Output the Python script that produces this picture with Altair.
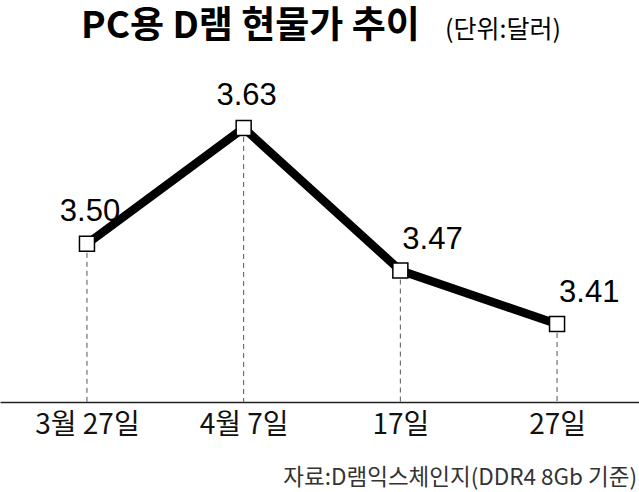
import json
import altair as alt
import pandas as pd

DATES = ["3월 27일", "4월 7일", "17일", "27일"]
PRICES = [3.50, 3.63, 3.47, 3.41]
PRICE_LABELS = ["3.50", "3.63", "3.47", "3.41"]
TITLE = "PC용 D램 현물가 추이"
UNIT = "(단위:달러)"
SOURCE = "자료:D램익스체인지(DDR4 8Gb 기준)"

df = pd.DataFrame({"i": list(range(len(DATES))), "date": DATES,
                   "price": PRICES, "label": PRICE_LABELS})

Y_DOMAIN = [3.3225, 3.7736]
X_DOMAIN = [-0.555, 3.523]
KR = "Noto Sans CJK KR"

label_expr = json.dumps(DATES, ensure_ascii=False) + "[datum.value]"

x = alt.X("i:Q",
          scale=alt.Scale(domain=X_DOMAIN, nice=False, zero=False),
          axis=alt.Axis(values=[0, 1, 2, 3], labelExpr=label_expr, ticks=False,
                        grid=False, title=None, domainColor="#222", domainWidth=1.5,
                        labelFont=KR, labelFontSize=28, labelColor="#111",
                        labelPadding=9, labelFlush=False, labelOverlap=False))
y = alt.Y("price:Q", scale=alt.Scale(domain=Y_DOMAIN, nice=False, zero=False), axis=None)

base = alt.Chart(df).encode(x=x, y=y)

rules = base.mark_rule(strokeDash=[5, 4], color="#555", strokeWidth=1).encode(
    y2=alt.datum(Y_DOMAIN[0]))
line = base.mark_line(color="#000", strokeWidth=8.5, strokeJoin="miter")
pts = base.mark_point(shape="square", size=225, filled=True, fill="white",
                      stroke="black", strokeWidth=1.5, opacity=1)
lab1 = base.transform_filter("datum.i < 2").mark_text(
    font="Liberation Sans", fontSize=31, align="center", baseline="alphabetic",
    dx=3, dy=-23, color="#000").encode(text="label:N")
lab2 = base.transform_filter("datum.i >= 2").mark_text(
    font="Liberation Sans", fontSize=31, align="left", baseline="alphabetic",
    dx=2, dy=-22, color="#000").encode(text="label:N")

title = alt.Chart(pd.DataFrame({"t": [TITLE]})).mark_text(
    font=KR, fontSize=37, fontWeight="bold", align="left", baseline="middle",
    color="#000").encode(x=alt.value(81), y=alt.value(27), text="t:N")
unit = alt.Chart(pd.DataFrame({"t": [UNIT]})).mark_text(
    font=KR, fontSize=25, align="left", baseline="middle",
    color="#000").encode(x=alt.value(445), y=alt.value(30), text="t:N")
source = alt.Chart(pd.DataFrame({"t": [SOURCE]})).mark_text(
    font=KR, fontSize=22.5, align="right", baseline="middle",
    color="#333").encode(x=alt.value(637), y=alt.value(478), text="t:N")

chart = alt.layer(rules, line, pts, lab1, lab2, title, unit, source).properties(
    width=639, height=402,
    autosize=alt.AutoSizeParams(type="none"),
    padding={"left": 0, "top": 0, "right": 0, "bottom": 90},
    background="white",
).configure_view(stroke=None)

chart.save("out.html", embed_options={"renderer": "svg", "actions": False})
